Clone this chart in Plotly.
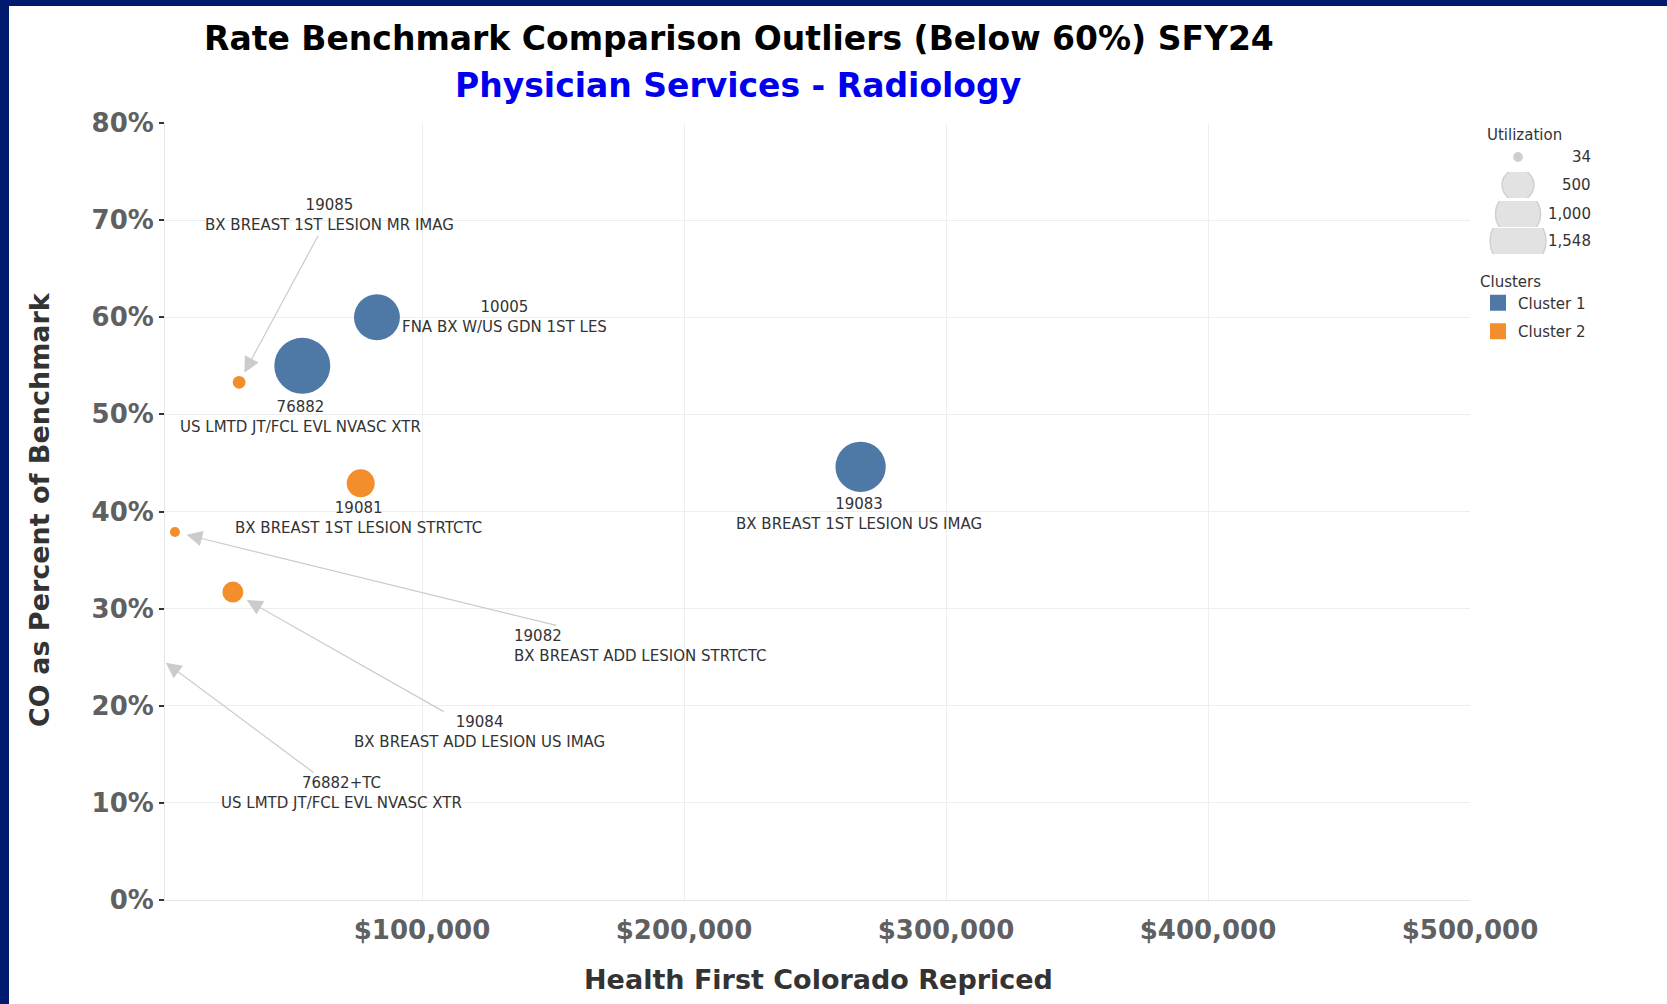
import plotly.graph_objects as go

# data
codes = ["10005", "76882", "19083", "19085", "19081", "19082", "19084", "76882+TC"]
descs = ["FNA BX W/US GDN 1ST LES", "US LMTD JT/FCL EVL NVASC XTR", "BX BREAST 1ST LESION US IMAG",
         "BX BREAST 1ST LESION MR IMAG", "BX BREAST 1ST LESION STRTCTC", "BX BREAST ADD LESION STRTCTC",
         "BX BREAST ADD LESION US IMAG", "US LMTD JT/FCL EVL NVASC XTR"]
clusters = ["Cluster 1", "Cluster 1", "Cluster 1", "Cluster 2", "Cluster 2", "Cluster 2", "Cluster 2", "Cluster 2"]
repriced = [82800, 54300, 267400, 30200, 76600, 5700, 27800, 0]
pct_benchmark = [0.600, 0.550, 0.446, 0.533, 0.429, 0.379, 0.317, 0.245]
utilization = [1040, 1548, 1250, 80, 387, 49, 218, 34]

size_legend = [34, 500, 1000, 1548]
cluster_names = ["Cluster 1", "Cluster 2"]
x_ticks = [100000, 200000, 300000, 400000, 500000]
y_ticks = [0, 0.1, 0.2, 0.3, 0.4, 0.5, 0.6, 0.7, 0.8]

colors = {"Cluster 1": "#4e79a7", "Cluster 2": "#f28e2b"}

W, H = 1667, 1004
ML, MR, MT, MB = 165, 10, 123, 104
PW, PH = W - ML - MR, H - MT - MB


def X(p):
    return (p - ML) / PW


def Y(p):
    return (H - MB - p) / PH


sizeref = 2.0 * max(size_legend) / 56 ** 2

# label placement per code (pixel offsets)
label_pos = {
    "10005": dict(xshift=128, yshift=0),
    "76882": dict(xshift=-2, yshift=-51),
    "19083": dict(xshift=-2, yshift=-47),
    "19081": dict(xshift=-2, yshift=-35),
    "19085": dict(ax=90, ay=-167, standoff=11),
    "19082": dict(ax=465, ay=114, standoff=12, align="left"),
    "19084": dict(ax=247, ay=140, standoff=16),
    "76882+TC": dict(ax=176, ay=131, standoff=1, xref="paper"),
}

fig = go.Figure()

for cl in cluster_names:
    idx = [i for i, c in enumerate(clusters) if c == cl]
    fig.add_trace(go.Scatter(
        x=[repriced[i] for i in idx],
        y=[pct_benchmark[i] for i in idx],
        mode="markers",
        marker=dict(size=[utilization[i] for i in idx], sizemode="area", sizeref=sizeref,
                    color=colors[cl], line=dict(width=0), opacity=1),
        text=[codes[i] for i in idx],
        showlegend=False,
    ))

# cluster legend swatches
for cl in cluster_names:
    fig.add_trace(go.Scatter(
        x=[None], y=[None], mode="markers", name=cl, legendgroup=cl,
        marker=dict(symbol="square", size=16, color=colors[cl]),
    ))

annotations = []
lab_font = dict(family="DejaVu Sans", size=15, color="#333333")
for i, code in enumerate(codes):
    pos = dict(label_pos[code])
    txt = code + "<br>" + descs[i]
    if "ax" in pos:
        xref = pos.pop("xref", "x")
        annotations.append(dict(
            x=0 if xref == "paper" else repriced[i], y=pct_benchmark[i], xref=xref, yref="y",
            text=txt, showarrow=True, arrowhead=2, arrowsize=2.6, arrowwidth=1.2,
            arrowcolor="#cbcbcb", font=lab_font, **pos))
    else:
        annotations.append(dict(
            x=repriced[i], y=pct_benchmark[i], xref="x", yref="y", text=txt,
            showarrow=False, font=lab_font, **pos))

# titles
annotations += [
    dict(text="<b>Rate Benchmark Comparison Outliers (Below 60%) SFY24</b>", x=X(739), y=Y(38),
         xref="paper", yref="paper", showarrow=False, xanchor="center", yanchor="middle",
         font=dict(family="DejaVu Sans", size=33, color="#000000")),
    dict(text="<b>Physician Services - Radiology</b>", x=X(738), y=Y(85),
         xref="paper", yref="paper", showarrow=False, xanchor="center", yanchor="middle",
         font=dict(family="DejaVu Sans", size=33, color="#0000ee")),
    dict(text="<b>CO as Percent of Benchmark</b>", x=X(39), y=Y(510), textangle=-90,
         xref="paper", yref="paper", showarrow=False, xanchor="center", yanchor="middle",
         font=dict(family="DejaVu Sans", size=27, color="#333333")),
    dict(text="<b>Health First Colorado Repriced</b>", x=X(818), y=Y(979),
         xref="paper", yref="paper", showarrow=False, xanchor="center", yanchor="middle",
         font=dict(family="DejaVu Sans", size=27, color="#333333")),
    dict(text="Utilization", x=X(1485), y=Y(135), xref="paper", yref="paper", showarrow=False,
         xanchor="left", yanchor="middle", font=dict(family="DejaVu Sans", size=15, color="#333333")),
]

# size legend: one tiny subplot per row so circles get clipped like the original
row_centers = [157, 185, 214, 241]
layout_axes = {}
for k, (v, cy) in enumerate(zip(size_legend, row_centers)):
    n = k + 2
    layout_axes[f"xaxis{n}"] = dict(domain=[X(1480), X(1556)], range=[-1, 1], visible=False,
                                    fixedrange=True, anchor=f"y{n}", automargin=False)
    layout_axes[f"yaxis{n}"] = dict(domain=[Y(cy + 13), Y(cy - 13)], range=[-1, 1], visible=False,
                                    fixedrange=True, anchor=f"x{n}", automargin=False)
    fig.add_trace(go.Scatter(
        x=[0], y=[0], xaxis=f"x{n}", yaxis=f"y{n}", mode="markers", showlegend=False,
        marker=dict(size=[v], sizemode="area", sizeref=sizeref,
                    color="#b9b9b9" if v == min(size_legend) else "#d7d7d7",
                    line=dict(color="#bdbdbd", width=1.5)),
    ))
    annotations.append(dict(text=f"{v:,}", x=X(1593), y=Y(cy), xref="paper", yref="paper",
                            showarrow=False, xanchor="right", yanchor="middle",
                            font=dict(family="DejaVu Sans", size=15, color="#333333")))

fig.update_layout(
    width=W, height=H,
    margin=dict(l=ML, r=MR, t=MT, b=MB, autoexpand=False),
    paper_bgcolor="#001a6e",
    plot_bgcolor="white",
    font=dict(family="DejaVu Sans", color="#333333"),
    xaxis=dict(domain=[0, X(1470)], range=[1900, 500000], tickvals=x_ticks, tickformat="$,.0f",
               showgrid=True, gridcolor="#eeeeee", zeroline=False, showline=True, linecolor="#e6e6e6",
               ticks="", ticklabelstandoff=7, automargin=False,
               tickfont=dict(family="DejaVu Sans", size=26, color="#606060", weight="bold")),
    yaxis=dict(domain=[0, 1], range=[0, 0.8], tickvals=y_ticks, tickformat=".0%",
               showgrid=True, gridcolor="#eeeeee", zeroline=False, showline=True, linecolor="#e6e6e6",
               ticks="outside", ticklen=5, tickwidth=1.5, tickcolor="#333333", automargin=False,
               tickfont=dict(family="DejaVu Sans", size=26, color="#606060", weight="bold")),
    legend=dict(title=dict(text="Clusters", font=dict(size=15, color="#333333")),
                x=X(1478), xanchor="left", y=Y(267), yanchor="top", tracegroupgap=6,
                font=dict(family="DejaVu Sans", size=15, color="#333333"), bgcolor="rgba(0,0,0,0)"),
    annotations=annotations,
    shapes=[dict(type="rect", xref="paper", yref="paper", x0=X(9), x1=X(W + 5), y0=Y(H + 5), y1=Y(6),
                 fillcolor="white", line=dict(width=0), layer="below")],
    **layout_axes,
)

fig.write_html("out.html", config={"displayModeBar": False},
               post_script="document.body.style.margin='0px';document.body.style.overflow='hidden';")
